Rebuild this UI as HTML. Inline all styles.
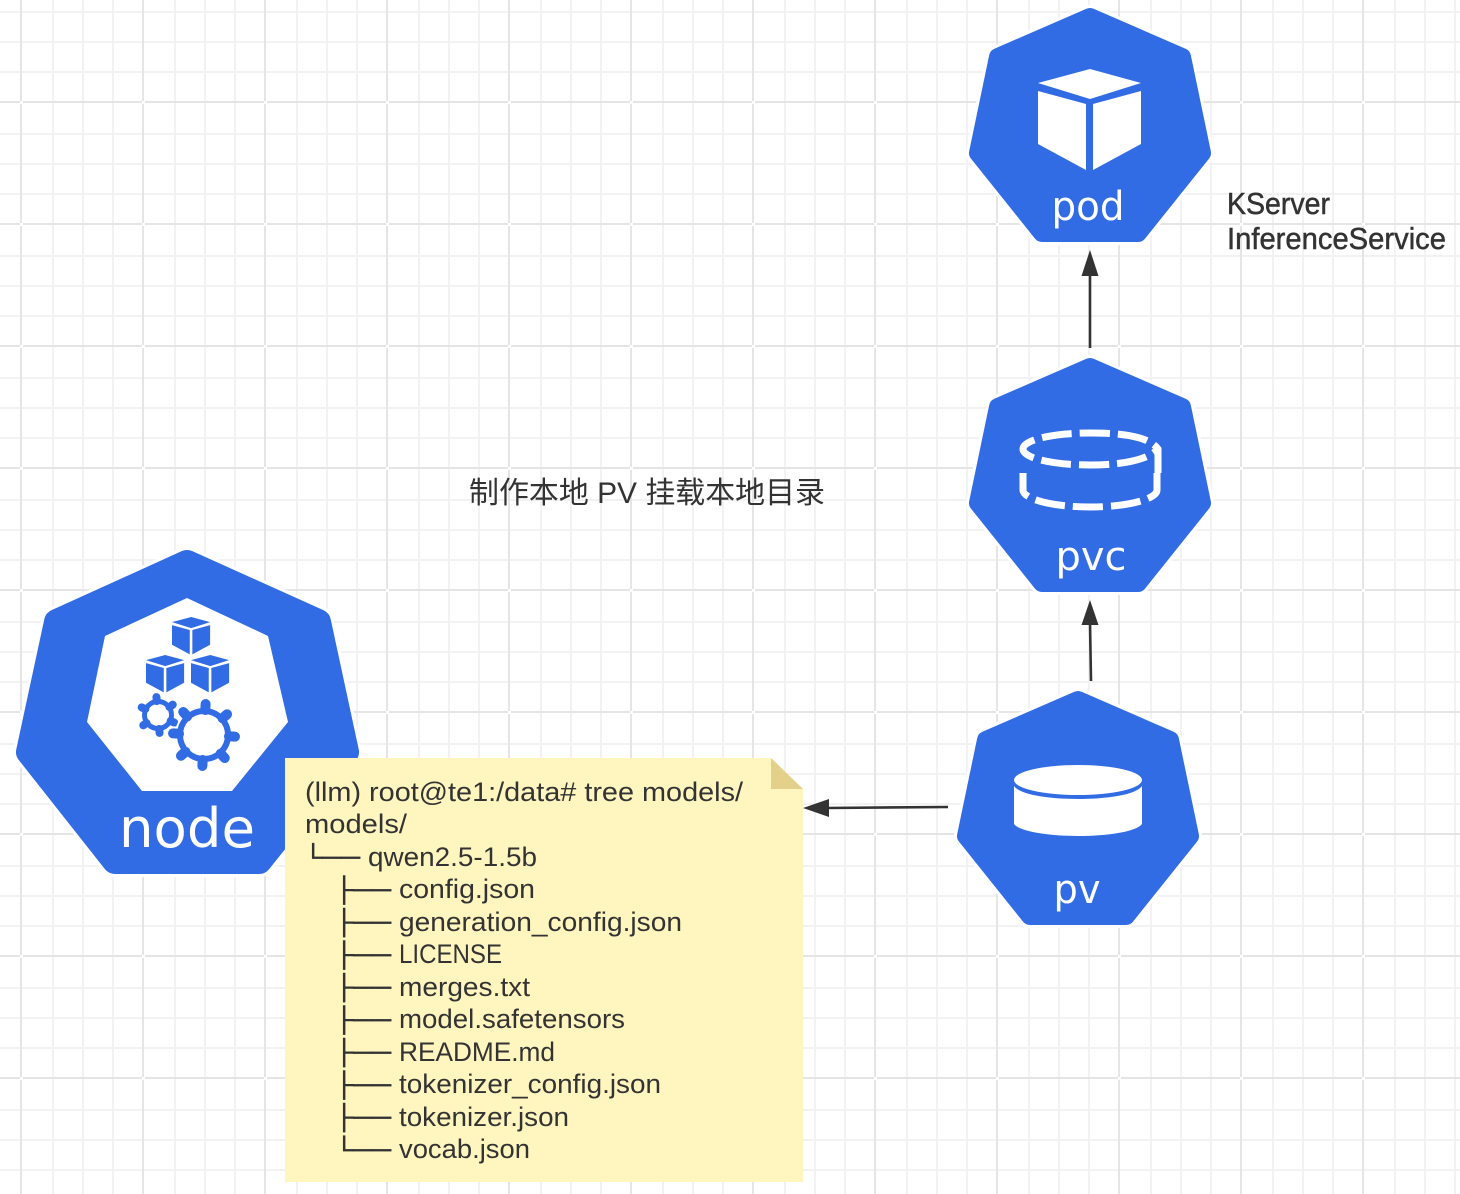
<!DOCTYPE html>
<html><head><meta charset="utf-8"><style>
html,body{margin:0;padding:0;background:#fff;width:1460px;height:1194px;overflow:hidden}
svg{display:block}
.t{font-family:"Liberation Sans","Noto Sans CJK SC",sans-serif;font-size:27px;fill:#333}
.b{font-family:"Liberation Sans","Noto Sans CJK SC",sans-serif;font-size:24px;fill:#333;stroke:#333;stroke-width:.5}
.l{font-family:"DejaVu Sans",sans-serif;fill:#fff}
.k{font-family:"Liberation Sans","Noto Sans CJK SC",sans-serif;font-size:31px;fill:#333;stroke:#333;stroke-width:.5}
</style></head><body>
<svg width="1460" height="1194" viewBox="0 0 1460 1194" xmlns="http://www.w3.org/2000/svg">
<defs>
<pattern id="g" x="20" y="-21" width="122" height="122" patternUnits="userSpaceOnUse">
<path d="M33 0V122M63 0V122M93 0V122M0 33H122M0 63H122M0 93H122" stroke="#f2f2f2" stroke-width="2" fill="none"/>
<path d="M1 3V122M3 1H122" stroke="#e5e5e5" stroke-width="2" fill="none"/>
</pattern>
<g id="hex">
<polygon points="1090,17 1182,57 1202,153 1138,233 1042,233 978,153 998,57" fill="#fff" stroke="#fff" stroke-width="24" stroke-linejoin="round"/>
<polygon points="1090,17 1182,57 1202,153 1138,233 1042,233 978,153 998,57" fill="#326ce5" stroke="#326ce5" stroke-width="18" stroke-linejoin="round"/>
</g>
<g id="cube">
<polygon points="52,0 103,14 52,30 0,14"/>
<polygon points="0,22 48,35 48,101 0,75"/>
<polygon points="55,35 103,22 103,75 55,101"/>
</g>
</defs>
<rect width="1460" height="1194" fill="#fff"/>
<rect width="1460" height="1194" fill="url(#g)"/>

<!-- pod -->
<use href="#hex"/>
<use href="#cube" x="1038" y="69" fill="#fff"/>
<text class="l" x="1088" y="220" font-size="40" text-anchor="middle" textLength="73" lengthAdjust="spacingAndGlyphs">pod</text>

<!-- pvc -->
<use href="#hex" y="350"/>
<g fill="none" stroke="#fff" stroke-width="7" stroke-dasharray="30 8">
<path d="M1158 473V449C1150 438 1128 433 1090 433C1052 433 1023 440 1023 449C1023 458 1052 465 1090 465C1128 465 1150 458 1158 449"/>
<path d="M1157 473V490C1157 499 1128 507 1090 507C1052 507 1023 499 1023 490V473"/>
</g>
<text class="l" x="1091" y="570" font-size="40" text-anchor="middle" textLength="71" lengthAdjust="spacingAndGlyphs">pvc</text>

<!-- pv -->
<use href="#hex" x="-12" y="683"/>
<ellipse cx="1078" cy="780" rx="64" ry="15" fill="#fff"/>
<path d="M1014 786C1020 795 1050 799 1078 799C1106 799 1136 795 1142 786V824C1136 832 1106 836 1078 836C1050 836 1020 832 1014 824Z" fill="#fff"/>
<text class="l" x="1077" y="903" font-size="40" text-anchor="middle" textLength="47" lengthAdjust="spacingAndGlyphs">pv</text>

<!-- node -->
<polygon points="187,563 318,622 346,752 259,861 115,861 29,752 57,622" fill="#fff" stroke="#fff" stroke-width="32" stroke-linejoin="round"/>
<polygon points="187,563 318,622 346,752 259,861 115,861 29,752 57,622" fill="#326ce5" stroke="#326ce5" stroke-width="26" stroke-linejoin="round"/>
<polygon points="187,598 268,636 288,722 232,791 142,791 87,722 105,636" fill="#fff"/>
<g fill="#326ce5">
<use href="#cube" transform="translate(172,617) scale(.37)"/>
<use href="#cube" transform="translate(146,655) scale(.37)"/>
<use href="#cube" transform="translate(191,655) scale(.37)"/>
</g>
<g transform="translate(158,715)" fill="none" stroke="#326ce5">
<circle r="13.5" stroke-width="5"/>
<g stroke-width="8" stroke-linecap="round">
<path d="M0 -14V-18" transform="rotate(-5)"/><path d="M0 -14V-18" transform="rotate(55)"/><path d="M0 -14V-18" transform="rotate(115)"/><path d="M0 -14V-18" transform="rotate(175)"/><path d="M0 -14V-18" transform="rotate(235)"/><path d="M0 -14V-18" transform="rotate(295)"/>
</g>
</g>
<g transform="translate(204,735)" fill="none">
<circle r="29" fill="#fff"/>
<g stroke="#fff" stroke-width="14" stroke-linecap="round">
<path d="M0 -26V-31" transform="rotate(-42)"/><path d="M0 -26V-31" transform="rotate(-87)"/><path d="M0 -26V-31" transform="rotate(3)"/>
</g>
<circle r="24" stroke="#326ce5" stroke-width="6"/>
<g stroke="#326ce5" stroke-width="10" stroke-linecap="round">
<path d="M0 -25V-31" transform="rotate(3)"/><path d="M0 -25V-31" transform="rotate(48)"/><path d="M0 -25V-31" transform="rotate(93)"/><path d="M0 -25V-31" transform="rotate(138)"/><path d="M0 -25V-31" transform="rotate(183)"/><path d="M0 -25V-31" transform="rotate(228)"/><path d="M0 -25V-31" transform="rotate(273)"/><path d="M0 -25V-31" transform="rotate(318)"/>
</g>
</g>
<text class="l" x="187" y="847" font-size="54" text-anchor="middle" textLength="136" lengthAdjust="spacingAndGlyphs">node</text>

<!-- note -->
<polygon points="285,758 771,758 803,789 803,1182 285,1182" fill="#fff5be"/>
<polygon points="771,758 803,789 771,789" fill="#e3d08a"/>
<text class="t" x="305" y="801" textLength="438" lengthAdjust="spacingAndGlyphs">(llm) root@te1:/data# tree models/</text>
<text class="t" x="305" y="833" textLength="102" lengthAdjust="spacingAndGlyphs">models/</text>
<text class="b" x="303.6" y="865" textLength="56.4" lengthAdjust="spacingAndGlyphs">└──</text><text class="t" x="368" y="866" textLength="169" lengthAdjust="spacingAndGlyphs">qwen2.5-1.5b</text>
<text class="b" x="334.6" y="897.5" textLength="56.4" lengthAdjust="spacingAndGlyphs">├──</text><text class="t" x="399" y="898" textLength="136" lengthAdjust="spacingAndGlyphs">config.json</text>
<text class="b" x="334.6" y="930" textLength="56.4" lengthAdjust="spacingAndGlyphs">├──</text><text class="t" x="399" y="931" textLength="283" lengthAdjust="spacingAndGlyphs">generation_config.json</text>
<text class="b" x="334.6" y="962.5" textLength="56.4" lengthAdjust="spacingAndGlyphs">├──</text><text class="t" x="399" y="963" textLength="103" lengthAdjust="spacingAndGlyphs">LICENSE</text>
<text class="b" x="334.6" y="995" textLength="56.4" lengthAdjust="spacingAndGlyphs">├──</text><text class="t" x="399" y="996" textLength="131" lengthAdjust="spacingAndGlyphs">merges.txt</text>
<text class="b" x="334.6" y="1027.5" textLength="56.4" lengthAdjust="spacingAndGlyphs">├──</text><text class="t" x="399" y="1028" textLength="226" lengthAdjust="spacingAndGlyphs">model.safetensors</text>
<text class="b" x="334.6" y="1060" textLength="56.4" lengthAdjust="spacingAndGlyphs">├──</text><text class="t" x="399" y="1061" textLength="156" lengthAdjust="spacingAndGlyphs">README.md</text>
<text class="b" x="334.6" y="1092.5" textLength="56.4" lengthAdjust="spacingAndGlyphs">├──</text><text class="t" x="399" y="1093" textLength="262" lengthAdjust="spacingAndGlyphs">tokenizer_config.json</text>
<text class="b" x="334.6" y="1125" textLength="56.4" lengthAdjust="spacingAndGlyphs">├──</text><text class="t" x="399" y="1126" textLength="170" lengthAdjust="spacingAndGlyphs">tokenizer.json</text>
<text class="b" x="334.6" y="1157.5" textLength="56.4" lengthAdjust="spacingAndGlyphs">└──</text><text class="t" x="399" y="1158" textLength="131" lengthAdjust="spacingAndGlyphs">vocab.json</text>

<!-- arrows -->
<g stroke="#333" stroke-width="2.6" fill="none">
<path d="M1090 348V272"/><path d="M1091 681L1090 622"/><path d="M948 807L826 808"/>
</g>
<g fill="#333">
<polygon points="1090,250 1098.5,276 1081.5,276"/>
<polygon points="1090,600 1098.5,625 1081.5,625"/>
<polygon points="803,808 829,799 829,817"/>
</g>

<text class="k" x="1227" y="214" textLength="103" lengthAdjust="spacingAndGlyphs">KServer</text>
<text class="k" x="1227" y="249" textLength="219" lengthAdjust="spacingAndGlyphs">InferenceService</text>
<text class="t" x="469" y="503" style="font-size:30px" textLength="356" lengthAdjust="spacingAndGlyphs">制作本地 PV 挂载本地目录</text>
</svg>
</body></html>
